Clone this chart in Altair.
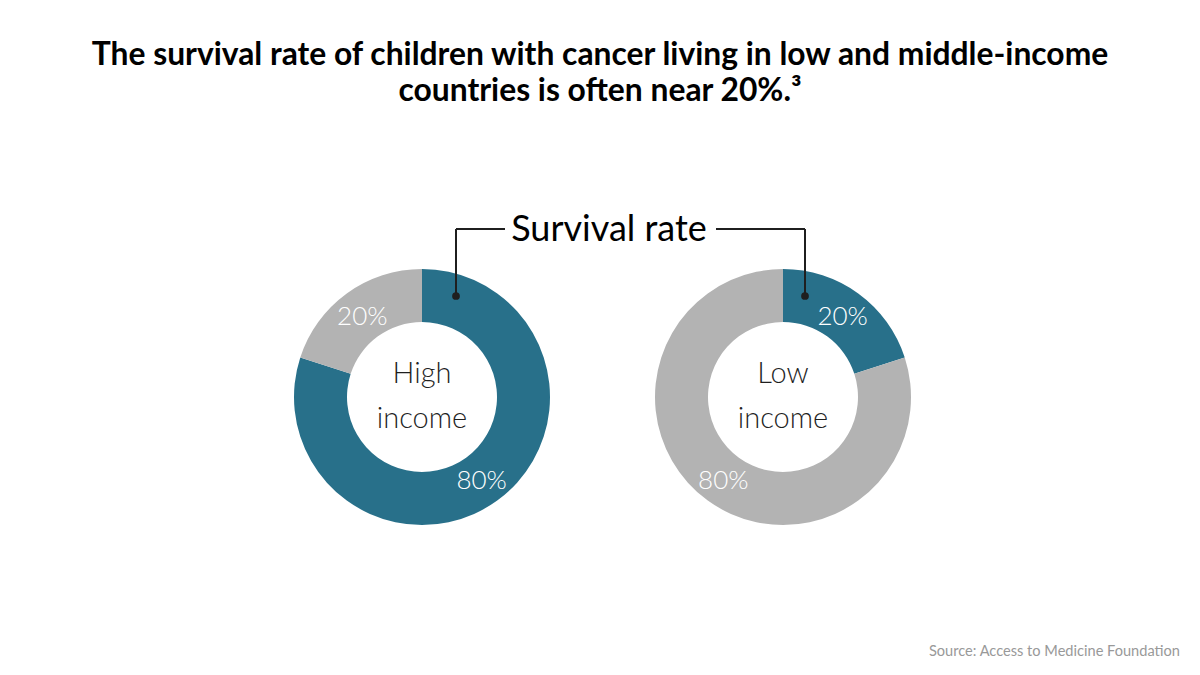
import altair as alt
import pandas as pd

# ---- data ----
groups = ["High income", "High income", "Low income", "Low income"]
segments = ["Survival", "Other", "Survival", "Other"]
values = [80, 20, 20, 80]
labels = ["80%", "20%", "20%", "80%"]
seg_order = [0, 1, 0, 1]
center_text = {"High income": ["High", "income"], "Low income": ["Low", "income"]}

title_lines = [
    "The survival rate of children with cancer living in low and middle-income",
    "countries is often near 20%.\u00b3",
]
annotation = "Survival rate"
source = "Source: Access to Medicine Foundation"

df = pd.DataFrame({"group": groups, "segment": segments, "value": values,
                   "label": labels, "ord": seg_order})

# ---- layout / style ----
W, H = 1200, 675
TEAL = "#28708A"
GRAY = "#B3B3B3"
INK = "#1f1f1f"
CX = {"High income": 422, "Low income": 783}
CY = 397
R_IN, R_OUT = 75, 128
FONT = "Lato"

color_scale = alt.Scale(domain=["Survival", "Other"], range=[TEAL, GRAY])
one = pd.DataFrame({"k": [0]})

layers = []
for g in ["High income", "Low income"]:
    base = alt.Chart(df).transform_filter(alt.datum.group == g)
    arc = base.mark_arc(innerRadius=R_IN, outerRadius=R_OUT).encode(
        theta=alt.Theta("value:Q", stack=True),
        color=alt.Color("segment:N", scale=color_scale, legend=None),
        order=alt.Order("ord:Q"),
        x=alt.value(CX[g]),
        y=alt.value(CY),
    )
    txt = base.mark_text(radius=(R_IN + R_OUT) / 2, font=FONT, fontSize=26,
                         fontWeight=300, color="white", dy=2).encode(
        theta=alt.Theta("value:Q", stack=True),
        order=alt.Order("ord:Q"),
        text="label:N",
        x=alt.value(CX[g]),
        y=alt.value(CY),
    )
    ctr = alt.Chart(one).mark_text(text=center_text[g], font=FONT, fontSize=29,
                                   fontWeight=300, color=INK, lineHeight=45,
                                   baseline="middle").encode(
        x=alt.value(CX[g]), y=alt.value(CY - 23))
    layers += [arc, txt, ctr]

title = alt.Chart(one).mark_text(text=title_lines, font=FONT, fontSize=31.8,
                                 fontWeight="bold", color="black", lineHeight=36,
                                 baseline="alphabetic").encode(
    x=alt.value(600), y=alt.value(65))

ann = alt.Chart(one).mark_text(text=annotation, font=FONT, fontSize=36,
                               fontWeight=400, color="black",
                               baseline="alphabetic").encode(
    x=alt.value(609), y=alt.value(241))

line_style = dict(color=INK, strokeWidth=2)
rules = [
    alt.Chart(one).mark_rule(**line_style).encode(x=alt.value(456), x2=alt.value(505), y=alt.value(229)),
    alt.Chart(one).mark_rule(**line_style).encode(x=alt.value(456), y=alt.value(229), y2=alt.value(296)),
    alt.Chart(one).mark_rule(**line_style).encode(x=alt.value(716), x2=alt.value(805), y=alt.value(229)),
    alt.Chart(one).mark_rule(**line_style).encode(x=alt.value(805), y=alt.value(229), y2=alt.value(296)),
]
dots = [
    alt.Chart(one).mark_point(filled=True, size=60, color=INK, opacity=1).encode(x=alt.value(456), y=alt.value(296)),
    alt.Chart(one).mark_point(filled=True, size=60, color=INK, opacity=1).encode(x=alt.value(805), y=alt.value(296)),
]

src = alt.Chart(one).mark_text(text=source, font=FONT, fontSize=14.6, color="#999999",
                               align="right", baseline="alphabetic").encode(
    x=alt.value(1180), y=alt.value(656))

chart = alt.layer(*layers, title, ann, *rules, *dots, src).properties(
    width=W, height=H, padding=0, autosize="none", background="white"
).configure_view(stroke=None)

chart.save("out.html", embed_options={"renderer": "svg", "actions": False})
